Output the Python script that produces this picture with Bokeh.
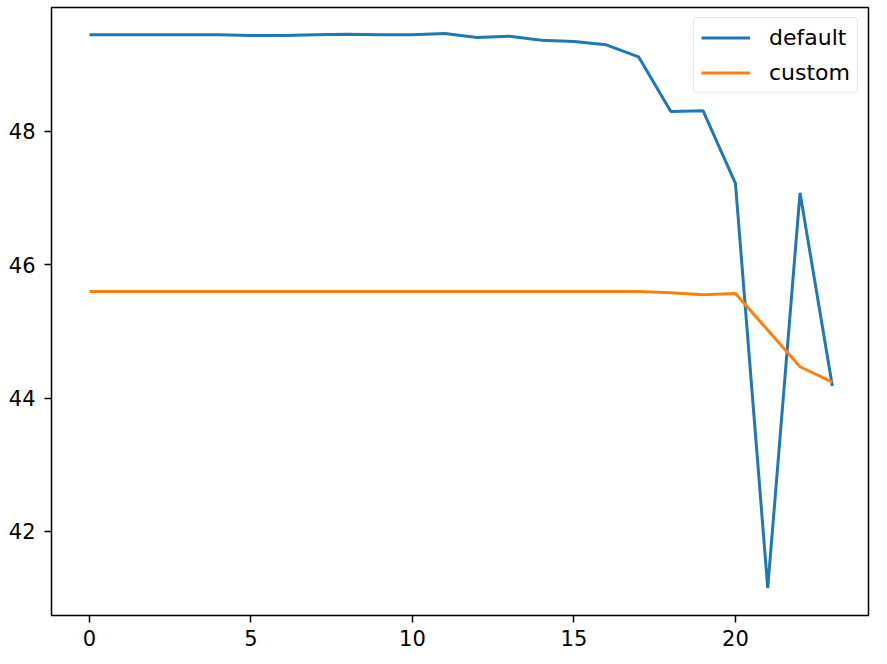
from bokeh.plotting import figure
from bokeh.models import Range1d, FixedTicker, Legend, LegendItem
from bokeh.embed import file_html
from bokeh.resources import INLINE

# ---- data ----
steps = list(range(24))
default_vals = [49.45, 49.45, 49.45, 49.45, 49.45, 49.44, 49.44, 49.45,
                49.46, 49.45, 49.45, 49.47, 49.41, 49.43, 49.37, 49.35,
                49.30, 49.12, 48.30, 48.31, 47.22, 41.15, 47.08, 44.18]
custom_vals = [45.60, 45.60, 45.60, 45.60, 45.60, 45.60, 45.60, 45.60,
               45.60, 45.60, 45.60, 45.60, 45.60, 45.60, 45.60, 45.60,
               45.60, 45.60, 45.58, 45.55, 45.57, 45.02, 44.47, 44.24]
series_names = ["default", "custom"]
x_ticks = [0, 5, 10, 15, 20]
y_ticks = [42, 44, 46, 48]

FONT = "DejaVu Sans"

p = figure(width=878, height=657, output_backend="svg", toolbar_location=None,
           x_range=Range1d(-1.176, 24.12), y_range=Range1d(40.738, 49.860),
           min_border_left=51, min_border_right=10, min_border_top=7,
           min_border_bottom=42)
p.background_fill_color = "white"
p.border_fill_color = "white"
p.grid.visible = False
p.outline_line_color = "black"
p.outline_line_width = 1.5
p.outline_line_alpha = 1.0

for ax in (p.xaxis[0], p.yaxis[0]):
    ax.axis_line_color = None
    ax.major_tick_in = 0
    ax.major_tick_out = 7
    ax.minor_tick_line_color = None
    ax.major_tick_line_color = "black"
    ax.major_tick_line_width = 1.5
    ax.major_label_text_font = FONT
    ax.major_label_text_font_size = "21px"
    ax.major_label_text_color = "black"

p.xaxis[0].ticker = FixedTicker(ticks=x_ticks)
p.yaxis[0].ticker = FixedTicker(ticks=y_ticks)
p.xaxis[0].major_label_standoff = 7
p.yaxis[0].major_label_standoff = 9

r1 = p.line(steps, default_vals, line_color="#1f77b4", line_width=3)
r2 = p.line(steps, custom_vals, line_color="#ff7f0e", line_width=3)

legend = Legend(items=[LegendItem(label=series_names[0], renderers=[r1]),
                       LegendItem(label=series_names[1], renderers=[r2])],
                location="top_right")
legend.border_line_color = "#cccccc"
legend.border_line_width = 1.4
legend.background_fill_color = "white"
legend.background_fill_alpha = 0.8
legend.glyph_width = 49
legend.glyph_height = 25
legend.label_height = 25
legend.label_standoff = 19
legend.spacing = 10
legend.padding = 7
legend.margin = 10
legend.label_text_font = FONT
legend.label_text_font_size = "22px"
legend.label_text_color = "black"
if "border_radius" in Legend.properties():
    legend.border_radius = 4
p.add_layout(legend)

open("out.html", "w").write(file_html(p, INLINE))
